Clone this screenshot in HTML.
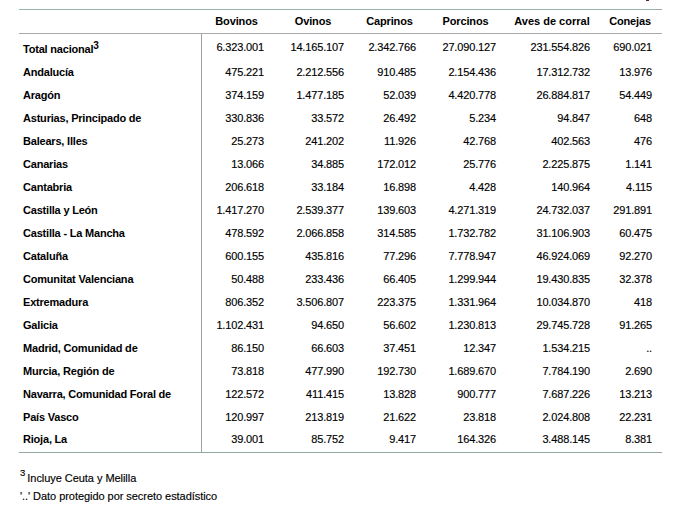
<!DOCTYPE html>
<html><head><meta charset="utf-8">
<style>
html,body{margin:0;padding:0;background:#fff;}
body{-webkit-text-stroke:0.15px #000;width:695px;height:511px;overflow:hidden;position:relative;font-family:"Liberation Sans",sans-serif;font-size:11px;color:#000;}
#mark{position:absolute;left:646px;top:0;width:3px;height:1px;background:#4a2035;}
table{position:absolute;left:19px;top:9px;border-collapse:collapse;table-layout:fixed;width:643px;}
th,td{padding:0;white-space:nowrap;}
thead th{height:24px;box-sizing:border-box;border-top:1px solid #97b3ab;border-bottom:1px solid #a8a8a8;font-weight:bold;text-align:center;vertical-align:bottom;line-height:13px;padding-bottom:5px;letter-spacing:-0.15px;}
tbody td{height:23px;vertical-align:bottom;line-height:13px;padding-bottom:5px;text-align:right;padding-right:10px;box-sizing:border-box;letter-spacing:-0.15px;}
tbody td.l{letter-spacing:-0.2px;text-align:left;font-weight:bold;padding-left:4px;padding-right:0;border-right:1px solid #a0a0a0;}
tbody tr.first td{height:27px;padding-bottom:7px;}
tbody tr.first td.l{padding-bottom:5px;}
tbody tr.last td{height:24px;padding-bottom:6px;}
tbody tr.last td{border-bottom:1px solid #8fa8a2;}
tbody td.c1,tbody td.c5{padding-right:8px;}
tbody td.c3{padding-right:9px;}
sup{font-size:9px;line-height:0;vertical-align:6px;letter-spacing:0;}
td.l sup{margin-left:0;font-size:10px;vertical-align:4px;}
.fn sup{font-size:9.5px;vertical-align:6px;margin-right:-1px;}
td.l,th{-webkit-text-stroke:0;}
.fn{position:absolute;left:20px;white-space:nowrap;line-height:13px;letter-spacing:-0.05px;}
</style></head><body>
<div id="mark"></div>
<div style="position:absolute;left:656px;top:9px;width:6px;height:1px;background:#a0a4a2;z-index:2"></div>
<div style="position:absolute;left:656px;top:452px;width:6px;height:1px;background:#9aa09e;z-index:2"></div>
<table>
<colgroup><col style="width:182px"><col style="width:71px"><col style="width:82px"><col style="width:71px"><col style="width:81px"><col style="width:92px"><col style="width:64px"></colgroup>
<thead><tr><th></th><th>Bovinos</th><th>Ovinos</th><th>Caprinos</th><th>Porcinos</th><th style="letter-spacing:0">Aves de corral</th><th>Conejas</th></tr></thead>
<tbody>
<tr class="first"><td class="l">Total nacional<sup>3</sup></td><td class="c1">6.323.001</td><td class="c2">14.165.107</td><td class="c3">2.342.766</td><td class="c4">27.090.127</td><td class="c5">231.554.826</td><td class="c6">690.021</td></tr>
<tr><td class="l">Andalucía</td><td class="c1">475.221</td><td class="c2">2.212.556</td><td class="c3">910.485</td><td class="c4">2.154.436</td><td class="c5">17.312.732</td><td class="c6">13.976</td></tr>
<tr><td class="l">Aragón</td><td class="c1">374.159</td><td class="c2">1.477.185</td><td class="c3">52.039</td><td class="c4">4.420.778</td><td class="c5">26.884.817</td><td class="c6">54.449</td></tr>
<tr><td class="l">Asturias, Principado de</td><td class="c1">330.836</td><td class="c2">33.572</td><td class="c3">26.492</td><td class="c4">5.234</td><td class="c5">94.847</td><td class="c6">648</td></tr>
<tr><td class="l">Balears, Illes</td><td class="c1">25.273</td><td class="c2">241.202</td><td class="c3">11.926</td><td class="c4">42.768</td><td class="c5">402.563</td><td class="c6">476</td></tr>
<tr><td class="l">Canarias</td><td class="c1">13.066</td><td class="c2">34.885</td><td class="c3">172.012</td><td class="c4">25.776</td><td class="c5">2.225.875</td><td class="c6">1.141</td></tr>
<tr><td class="l">Cantabria</td><td class="c1">206.618</td><td class="c2">33.184</td><td class="c3">16.898</td><td class="c4">4.428</td><td class="c5">140.964</td><td class="c6">4.115</td></tr>
<tr><td class="l">Castilla y León</td><td class="c1">1.417.270</td><td class="c2">2.539.377</td><td class="c3">139.603</td><td class="c4">4.271.319</td><td class="c5">24.732.037</td><td class="c6">291.891</td></tr>
<tr><td class="l">Castilla - La Mancha</td><td class="c1">478.592</td><td class="c2">2.066.858</td><td class="c3">314.585</td><td class="c4">1.732.782</td><td class="c5">31.106.903</td><td class="c6">60.475</td></tr>
<tr><td class="l">Cataluña</td><td class="c1">600.155</td><td class="c2">435.816</td><td class="c3">77.296</td><td class="c4">7.778.947</td><td class="c5">46.924.069</td><td class="c6">92.270</td></tr>
<tr><td class="l">Comunitat Valenciana</td><td class="c1">50.488</td><td class="c2">233.436</td><td class="c3">66.405</td><td class="c4">1.299.944</td><td class="c5">19.430.835</td><td class="c6">32.378</td></tr>
<tr><td class="l">Extremadura</td><td class="c1">806.352</td><td class="c2">3.506.807</td><td class="c3">223.375</td><td class="c4">1.331.964</td><td class="c5">10.034.870</td><td class="c6">418</td></tr>
<tr><td class="l">Galicia</td><td class="c1">1.102.431</td><td class="c2">94.650</td><td class="c3">56.602</td><td class="c4">1.230.813</td><td class="c5">29.745.728</td><td class="c6">91.265</td></tr>
<tr><td class="l">Madrid, Comunidad de</td><td class="c1">86.150</td><td class="c2">66.603</td><td class="c3">37.451</td><td class="c4">12.347</td><td class="c5">1.534.215</td><td class="c6">..</td></tr>
<tr><td class="l">Murcia, Región de</td><td class="c1">73.818</td><td class="c2">477.990</td><td class="c3">192.730</td><td class="c4">1.689.670</td><td class="c5">7.784.190</td><td class="c6">2.690</td></tr>
<tr><td class="l">Navarra, Comunidad Foral de</td><td class="c1">122.572</td><td class="c2">411.415</td><td class="c3">13.828</td><td class="c4">900.777</td><td class="c5">7.687.226</td><td class="c6">13.213</td></tr>
<tr><td class="l">País Vasco</td><td class="c1">120.997</td><td class="c2">213.819</td><td class="c3">21.622</td><td class="c4">23.818</td><td class="c5">2.024.808</td><td class="c6">22.231</td></tr>
<tr class="last"><td class="l">Rioja, La</td><td class="c1">39.001</td><td class="c2">85.752</td><td class="c3">9.417</td><td class="c4">164.326</td><td class="c5">3.488.145</td><td class="c6">8.381</td></tr>
</tbody></table>
<div class="fn" style="top:472px"><sup>3</sup> Incluye Ceuta y Melilla</div>
<div class="fn" style="top:490px">'..' Dato protegido por secreto estadístico</div>
</body></html>
